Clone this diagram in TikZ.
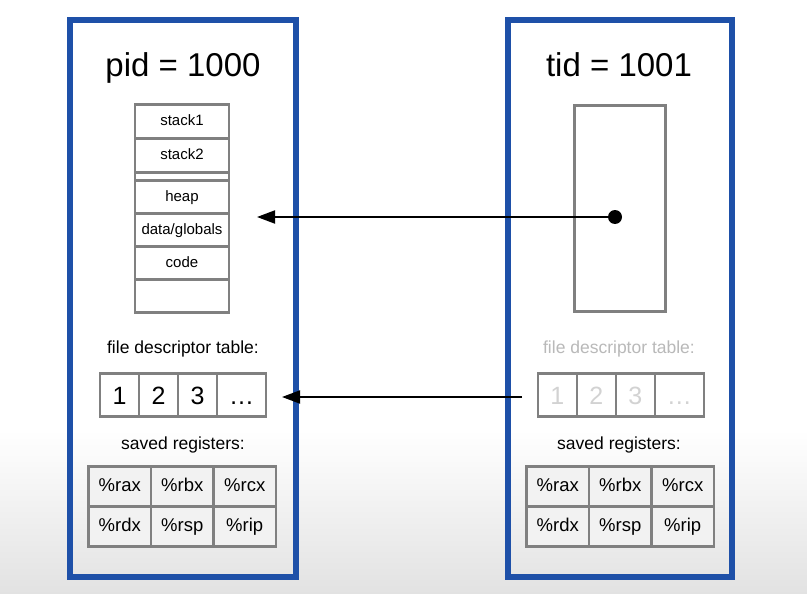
\documentclass[tikz,border=0pt]{standalone}
\usepackage{fontspec}
\setmainfont{Liberation Sans}
\usetikzlibrary{positioning, arrows.meta}
\definecolor{frameBlue}{RGB}{30,80,168}
\definecolor{cellGray}{RGB}{128,128,128}
\definecolor{fadedGray}{RGB}{185,185,185}
\definecolor{fadedDigit}{RGB}{210,210,210}
\definecolor{regFill}{RGB}{242,242,242}
\definecolor{bgGray}{RGB}{226,226,226}
\tikzstyle{taskFrame}=[draw=frameBlue, line width=6pt, minimum height=557pt, inner sep=0pt]
\tikzstyle{memCell}=[draw=cellGray, fill=white, line width=2.5pt, minimum width=94pt, minimum height=34pt, inner sep=0pt, outer sep=0pt, text height=11pt, text depth=3pt, font=\fontsize{15}{18}\selectfont]
\tikzstyle{fdCell}=[draw=cellGray, fill=white, line width=2.5pt, minimum width=39pt, minimum height=43pt, inner sep=0pt, outer sep=0pt, text height=18pt, text depth=0pt, font=\fontsize{25}{30}\selectfont]
\tikzstyle{regCell}=[draw=cellGray, fill=regFill, line width=2.5pt, minimum width=62.5pt, minimum height=40pt, inner sep=0pt, outer sep=0pt, text height=13.5pt, text depth=3.5pt, font=\fontsize{18.5}{22}\selectfont]
\tikzstyle{tableLabel}=[anchor=base, font=\fontsize{17.5}{21}\selectfont]
\tikzstyle{idLabel}=[anchor=base, font=\fontsize{33}{39}\selectfont]
\tikzstyle{pointerArrow}=[-{Triangle[length=18pt,width=13pt]}, line width=2pt]

\begin{document}
\begin{tikzpicture}[x=1pt, y=-1pt]
  \useasboundingbox (0,0) rectangle (807,594);
  \fill[white] (0,0) rectangle (807,430);
  \shade[top color=white, bottom color=bgGray] (0,430) rectangle (807,594);

  % process (left)

  \node[taskFrame, minimum width=226pt] (procFrame) at (183,298.5) {};
  \node[idLabel] (pid) at (183,77) {pid = 1000};

  \node[memCell] (stack1) at (182,121.5) {stack1};
  \node[memCell, below=0pt of stack1] (stack2) {stack2};
  \node[memCell, below=0pt of stack2, minimum height=8pt, text height=0pt, text depth=0pt] (gap) {};
  \node[memCell, below=0pt of gap, minimum height=33pt] (heap) {heap};
  \node[memCell, below=0pt of heap, minimum height=33pt] (data) {data/globals};
  \node[memCell, below=0pt of data, minimum height=33pt] (code) {code};
  \node[memCell, below=0pt of code, minimum height=33pt] (empty) {};

  \node[tableLabel] (fdLabel) at (183,353) {file descriptor table:};
  \node[fdCell] (fd1) at (119.5,395) {1};
  \node[fdCell, right=0pt of fd1] (fd2) {2};
  \node[fdCell, right=0pt of fd2] (fd3) {3};
  \node[fdCell, right=0pt of fd3, minimum width=49pt] (fd4) {\dots};

  \node[tableLabel] (regLabel) at (183,449) {saved registers:};
  \node[regCell] (rax) at (119.75,486.5) {\%rax};
  \node[regCell, right=0pt of rax] (rbx) {\%rbx};
  \node[regCell, right=0pt of rbx] (rcx) {\%rcx};
  \node[regCell, below=0pt of rax] (rdx) {\%rdx};
  \node[regCell, right=0pt of rdx] (rsp) {\%rsp};
  \node[regCell, right=0pt of rsp] (rip) {\%rip};

  % thread (right)

  \node[taskFrame, minimum width=224pt] (threadFrame) at (620,298.5) {};
  \node[idLabel] (tid) at (619,77) {tid = 1001};

  \node[memCell, minimum width=91pt, minimum height=206pt, text height=0pt, text depth=0pt] (threadMem) at (620,208.5) {};
  \node[circle, fill=black, inner sep=0pt, minimum size=14pt] (ptr) at (615,217) {};

  \node[tableLabel, text=fadedGray] (tfdLabel) at (619,353) {file descriptor table:};
  \node[fdCell, text=fadedDigit] (tfd1) at (557.25,395) {1};
  \node[fdCell, text=fadedDigit, right=0pt of tfd1] (tfd2) {2};
  \node[fdCell, text=fadedDigit, right=0pt of tfd2] (tfd3) {3};
  \node[fdCell, text=fadedDigit, right=0pt of tfd3, minimum width=49pt] (tfd4) {\dots};

  \node[tableLabel] (tregLabel) at (619,449) {saved registers:};
  \node[regCell] (trax) at (557.75,486.5) {\%rax};
  \node[regCell, right=0pt of trax] (trbx) {\%rbx};
  \node[regCell, right=0pt of trbx] (trcx) {\%rcx};
  \node[regCell, below=0pt of trax] (trdx) {\%rdx};
  \node[regCell, right=0pt of trdx] (trsp) {\%rsp};
  \node[regCell, right=0pt of trsp] (trip) {\%rip};

  % shared pointers

  \coordinate (memTip) at (257,217);
  \coordinate (fdStart) at (522,397);
  \coordinate (fdTip) at (282,397);
  \draw[pointerArrow] (ptr.center) -- (memTip);
  \draw[pointerArrow] (fdStart) -- (fdTip);
\end{tikzpicture}
\end{document}
